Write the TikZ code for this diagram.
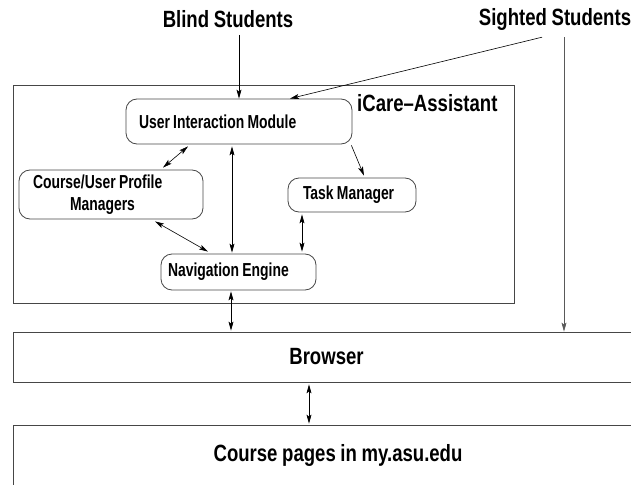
\documentclass[tikz,border=0pt]{standalone}
\usepackage{fontspec}
\setmainfont{Liberation Sans}
\newfontfamily\bigfam{Liberation Sans}[FakeStretch=0.79, WordSpace=0.9, Ligatures=TeX]
\newfontfamily\boxfam{Liberation Sans}[FakeStretch=0.74, WordSpace=0.85, Ligatures=TeX]
\usetikzlibrary{positioning,arrows.meta,calc}
\newcommand{\boxfont}{\boxfam\fontsize{18.8}{22}\selectfont\bfseries}
\newcommand{\bigfont}{\bigfam\fontsize{23.5}{26}\selectfont\bfseries}

\begin{document}
\begin{tikzpicture}[
    x=1pt, y=-1pt,
    module/.style={draw=gray!55!black, rounded corners=11pt, line width=0.8pt,
      align=flush left, font=\boxfont, inner ysep=0pt},
    layer/.style={draw=gray!55!black, line width=0.8pt, font=\bigfont, inner sep=0pt},
    actor/.style={font=\bigfont, inner sep=1pt},
    flow/.style={-{Stealth[length=9pt,width=5pt,inset=2pt]}, line width=0.6pt},
    link/.style={{Stealth[length=9pt,width=5pt,inset=2pt]}-{Stealth[length=9pt,width=5pt,inset=2pt]},
      line width=0.6pt},
  ]
    \useasboundingbox (0,0) rectangle (631,484);
    \clip (0,0) rectangle (631,484);

    % Users on top
    \node[actor] (blind) at (228,19) {Blind Students};
    \node[actor] (sighted) at (555,19) {Sighted Students};

    % --- iCare-Assistant frame and its modules
    \node[draw=gray!55!black, line width=0.8pt, inner sep=0pt,
      minimum width=501pt, minimum height=218pt] (assistant) at (263.5,194) {};
    \node[actor, anchor=west] (title) at (356,103) {iCare--Assistant};

    \node[module, text width=200pt, inner xsep=13pt, minimum height=45pt]
      (uim) at (239,121.5) {User Interaction Module};
    \node[module, text width=156pt, inner xsep=14pt, minimum height=49pt]
      (course) at (111,194.5) {Course/User Profile\\\hspace*{37pt}Managers};
    \node[module, text width=98pt, inner xsep=15pt, minimum height=34pt]
      (task) at (352,195) {Task Manager};
    \node[module, text width=141pt, inner xsep=7pt, minimum height=36pt]
      (nav) at (238.5,272) {Navigation Engine};

    % --- lower layers (run past the right edge)
    \node[layer, minimum width=627pt, minimum height=50pt] (browser) at (326.5,357) {Browser};
    \node[layer, minimum width=650pt, minimum height=60pt] (pages) at (338,455)
      {Course pages in my.asu.edu};

    % Connectors
    \coordinate (sdrop) at ($(sighted.south)+(9,6)$);
    \draw[flow] ($(blind.south -| uim.north)+(0,6)$) -- (uim.north);
    \draw[flow] ($(sighted.south)+(-13,6)$) -- ($(uim.north)+(51,0)$);
    \draw[flow, draw=gray!70!black] (sdrop) -- (sdrop |- browser.north);

    \draw[link] ($(uim.south)+(-51,2)$) -- ($(course.north)+(52,-2)$);
    \draw[link] ($(uim.south)+(-7,2)$) -- ($(nav.north)+(-6.5,-1)$);
    \draw[flow] ($(uim.south east)+(-1,1)$) -- ($(task.north)+(12,-2)$);
    \draw[link] ($(course.south)+(44,2)$) -- ($(nav.north)+(-30.5,-2)$);
    \draw[link] ($(task.south)+(-50,2)$) -- ($(nav.north)+(63.5,-2)$);

    \draw[link] ($(nav.south)+(-7.5,1)$) -- ($(browser.north)+(-95.5,-1)$);
    \draw[link] ($(browser.south)+(-17.5,2)$) -- ($(pages.north)+(-29,-1)$);
  \end{tikzpicture}
\end{document}
